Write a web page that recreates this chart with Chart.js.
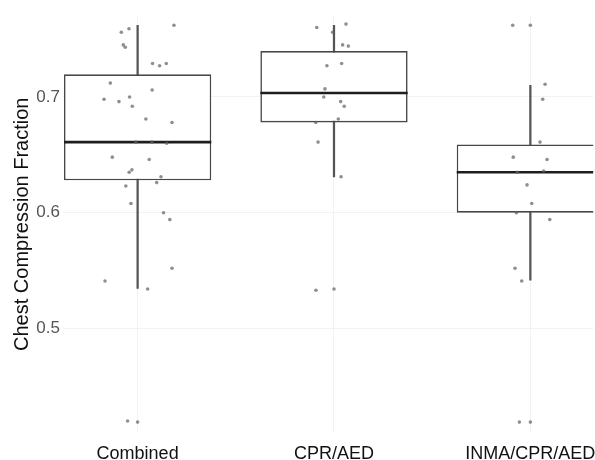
<!DOCTYPE html>
<html>
<head>
<meta charset="utf-8">
<script src="https://cdn.jsdelivr.net/npm/chart.js@4.4.1/dist/chart.umd.min.js"></script>
<style>
  html, body { margin: 0; padding: 0; background: #fff; overflow: hidden; }
</style>
</head>
<body>
<canvas id="myChart" width="595" height="460"></canvas>
<script>
// categories and box stats
const categories = ['Combined', 'CPR/AED', 'INMA/CPR/AED'];
const q1 = [0.628, 0.678, 0.600];
const medians = [0.661, 0.7035, 0.635];
const q3 = [0.7196, 0.7397, 0.659];
const whiskerLow = [0.5345, 0.631, 0.5417];
const whiskerHigh = [0.762, 0.762, 0.710];
const yTicks = [0.5, 0.6, 0.7];

// jittered observations (value, horizontal jitter in category units)
const combinedValues = [0.756, 0.759, 0.762, 0.745, 0.743, 0.729, 0.727, 0.729, 0.712, 0.706, 0.698, 0.696, 0.700, 0.692, 0.681, 0.678, 0.661, 0.661, 0.660, 0.648, 0.646, 0.635, 0.637, 0.631, 0.626, 0.623, 0.608, 0.600, 0.594, 0.552, 0.541, 0.534, 0.420, 0.419];
const combinedJitter = [-0.083, -0.044, 0.185, -0.073, -0.063, 0.076, 0.112, 0.146, -0.139, 0.074, -0.171, -0.095, -0.041, -0.027, 0.042, 0.175, -0.009, 0.073, 0.148, -0.129, 0.059, -0.043, -0.029, 0.119, 0.097, -0.060, -0.034, 0.132, 0.164, 0.175, -0.166, 0.051, -0.051, 0];
const cprValues = [0.760, 0.756, 0.763, 0.745, 0.744, 0.727, 0.729, 0.707, 0.700, 0.696, 0.692, 0.678, 0.681, 0.661, 0.631, 0.533, 0.534];
const cprJitter = [-0.088, -0.007, 0.061, 0.044, 0.073, -0.036, 0.039, -0.046, -0.052, 0.034, 0.052, -0.093, 0.022, -0.081, 0.036, -0.092, 0];
const inmaValues = [0.762, 0.762, 0.711, 0.698, 0.661, 0.648, 0.646, 0.635, 0.636, 0.624, 0.608, 0.600, 0.594, 0.552, 0.541, 0.419, 0.419];
const inmaJitter = [-0.090, 0, 0.075, 0.063, 0.049, -0.087, 0.085, -0.066, 0.068, -0.017, 0.007, -0.071, 0.099, -0.078, -0.044, -0.056, 0];

const groups = [[combinedValues, combinedJitter], [cprValues, cprJitter], [inmaValues, inmaJitter]];
const points = [];
groups.forEach(function (g, i) {
  g[0].forEach(function (v, k) { points.push({ x: i + g[1][k], y: v }); });
});

const BOX = 0.75; // box width in category units
const FONT = "'Liberation Sans', Arial, Helvetica, sans-serif";

const datasets = [
  {
    type: 'scatter',
    data: points,
    pointRadius: 1.8,
    pointHoverRadius: 1.8,
    pointBackgroundColor: 'rgba(95,95,95,0.7)',
    pointBorderWidth: 0,
    order: 0
  },
  {
    data: q1.map((v, i) => ({ x: i, y: [v, q3[i]] })),
    backgroundColor: '#ffffff',
    borderColor: '#474747',
    borderWidth: 1.6,
    borderSkipped: false,
    categoryPercentage: 1,
    barPercentage: BOX,
    grouped: false,
    order: 2
  },
  {
    data: whiskerLow.map((v, i) => ({ x: i, y: [v, whiskerHigh[i]] })),
    backgroundColor: '#555555',
    borderWidth: 0,
    barThickness: 1.6,
    grouped: false,
    order: 3
  }
];
// median lines
medians.forEach(function (m, i) {
  datasets.push({
    type: 'scatter',
    showLine: true,
    data: [{ x: i - BOX / 2, y: m }, { x: i + BOX / 2, y: m }],
    borderColor: '#1e1e1e',
    borderWidth: 2.6,
    pointRadius: 0,
    pointHoverRadius: 0,
    order: 1
  });
});

const ctx = document.getElementById('myChart').getContext('2d');
const chart = new Chart(ctx, {
  type: 'bar',
  data: { datasets: datasets },
  options: {
    responsive: false,
    animation: false,
    events: [],
    layout: { padding: { left: 10, top: 16, right: 0, bottom: 0 } },
    plugins: { legend: { display: false }, tooltip: { enabled: false } },
    scales: {
      x: {
        type: 'linear',
        min: -0.380,
        max: 2.320,
        offset: false,
        afterBuildTicks: (s) => { s.ticks = categories.map((c, i) => ({ value: i })); },
        afterFit: (s) => { s.height = 27.5; s.paddingLeft = 0; s.paddingRight = 0; },
        grid: { color: '#f2f2f2', lineWidth: 1, drawTicks: false, offset: false },
        border: { display: false },
        ticks: {
          padding: 10.5,
          color: '#111111',
          font: { family: FONT, size: 18 },
          callback: (v) => categories[v],
          maxRotation: 0,
          autoSkip: false
        }
      },
      y: {
        min: 0.41,
        max: 0.77,
        afterBuildTicks: (s) => { s.ticks = yTicks.map((v) => ({ value: v })); },
        afterFit: (s) => { s.width = 53; },
        grid: { color: '#f2f2f2', lineWidth: 1, drawTicks: false },
        border: { display: false },
        ticks: {
          padding: 3,
          color: '#555555',
          font: { family: FONT, size: 17 },
          callback: (v) => v.toFixed(1)
        },
        title: {
          display: true,
          text: 'Chest Compression Fraction',
          color: '#111111',
          font: { family: FONT, size: 20 },
          padding: 0
        }
      }
    }
  }
});
</script>
</body>
</html>
